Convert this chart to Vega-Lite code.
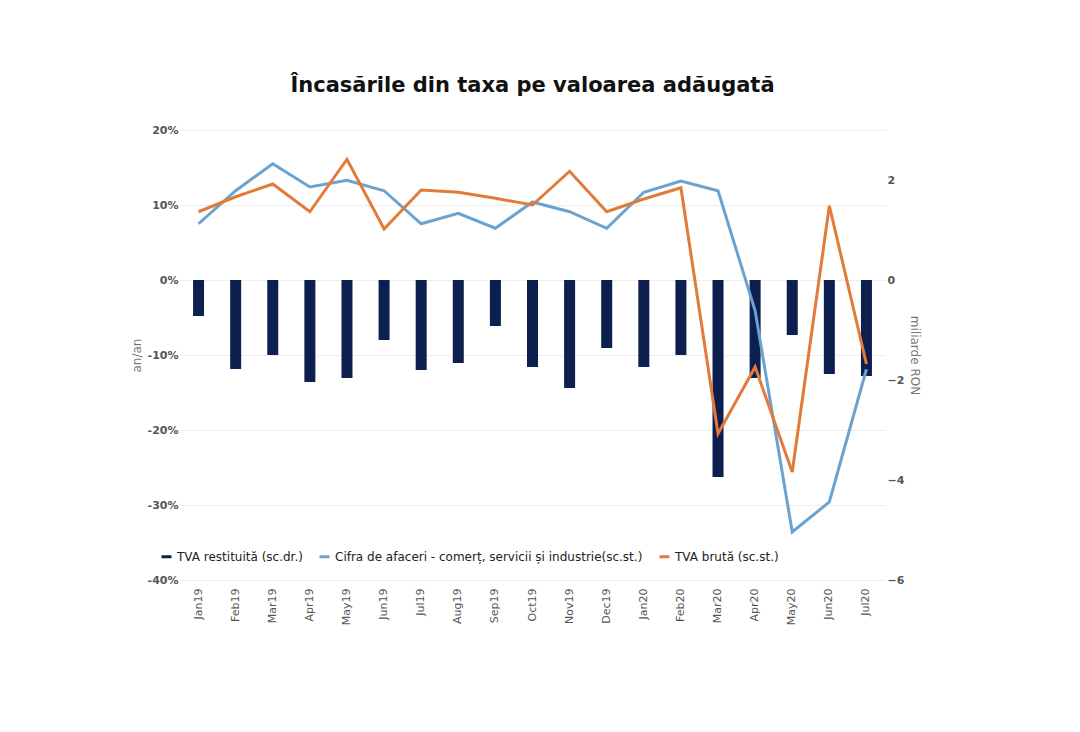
{
"$schema":"https://vega.github.io/schema/vega-lite/v6.json",
"width":705,"height":450,
"padding":{"left":130,"top":75,"right":120,"bottom":10},
"background":"white",
"title":{"text":"Încasările din taxa pe valoarea adăugată","font":"DejaVu Sans","fontSize":21,"fontWeight":"bold","color":"#111","offset":28},
"config":{"view":{"stroke":null},"font":"DejaVu Sans","axis":{"labelColor":"#555","labelFontSize":11,"titleColor":"#777","titleFontWeight":"normal","titleFontSize":12}},
"data":{"values":[
{"m":"Jan19","r":-0.72,"c":7.5,"t":9.1},
{"m":"Feb19","r":-1.78,"c":11.9,"t":11.1},
{"m":"Mar19","r":-1.5,"c":15.5,"t":12.8},
{"m":"Apr19","r":-2.04,"c":12.4,"t":9.1},
{"m":"May19","r":-1.96,"c":13.3,"t":16.1},
{"m":"Jun19","r":-1.2,"c":11.9,"t":6.8},
{"m":"Jul19","r":-1.8,"c":7.5,"t":12},
{"m":"Aug19","r":-1.66,"c":8.9,"t":11.7},
{"m":"Sep19","r":-0.92,"c":6.9,"t":10.9},
{"m":"Oct19","r":-1.74,"c":10.4,"t":10},
{"m":"Nov19","r":-2.16,"c":9.1,"t":14.5},
{"m":"Dec19","r":-1.36,"c":6.9,"t":9.1},
{"m":"Jan20","r":-1.74,"c":11.7,"t":10.8},
{"m":"Feb20","r":-1.5,"c":13.2,"t":12.3},
{"m":"Mar20","r":-3.94,"c":11.9,"t":-20.5},
{"m":"Apr20","r":-1.96,"c":-4.1,"t":-11.6},
{"m":"May20","r":-1.1,"c":-33.6,"t":-25.6},
{"m":"Jun20","r":-1.88,"c":-29.6,"t":9.9},
{"m":"Jul20","r":-1.92,"c":-11.9,"t":-11.2}
]},
"encoding":{"x":{"field":"m","type":"ordinal","sort":null,"title":null,"axis":{"labelAngle":-90,"domain":false,"ticks":false,"labelPadding":8,"labelFontSize":11}}},
"layer":[
{"mark":{"type":"bar","width":11,"color":"#0d1f4f"},
 "encoding":{"y":{"field":"r","type":"quantitative","scale":{"domain":[-6,3]},"axis":{"orient":"right","title":"miliarde RON","values":[-6,-4,-2,0,2],"grid":false,"domain":false,"ticks":false,"labelFontWeight":"bold"}},
  "color":{"datum":"TVA restituită (sc.dr.)","type":"nominal","scale":{"domain":["TVA restituită (sc.dr.)","Cifra de afaceri - comerț, servicii și industrie(sc.st.)","TVA brută (sc.st.)"],"range":["#0d1f4f","#6aa3d0","#e07b39"]},
   "legend":{"title":null,"orient":"none","legendX":-20,"legendY":420,"direction":"horizontal","labelFontSize":12,"labelColor":"#222","symbolType":"stroke","symbolStrokeWidth":3,"labelLimit":400}}}},
{"transform":[{"fold":["c","t"],"as":["k","v"]},{"calculate":"datum.k=='c'?'Cifra de afaceri - comerț, servicii și industrie(sc.st.)':'TVA brută (sc.st.)'","as":"s"}],
 "mark":{"type":"line","strokeWidth":3},
 "encoding":{"y":{"field":"v","type":"quantitative","scale":{"domain":[-40,20]},"axis":{"title":"an/an","values":[-40,-30,-20,-10,0,10,20],"labelExpr":"datum.value+'%'","grid":true,"gridColor":"#eee","domain":false,"ticks":false,"labelFontWeight":"bold"}},
  "color":{"field":"s","type":"nominal","title":null}}}
],
"resolve":{"scale":{"y":"independent"}}
}
